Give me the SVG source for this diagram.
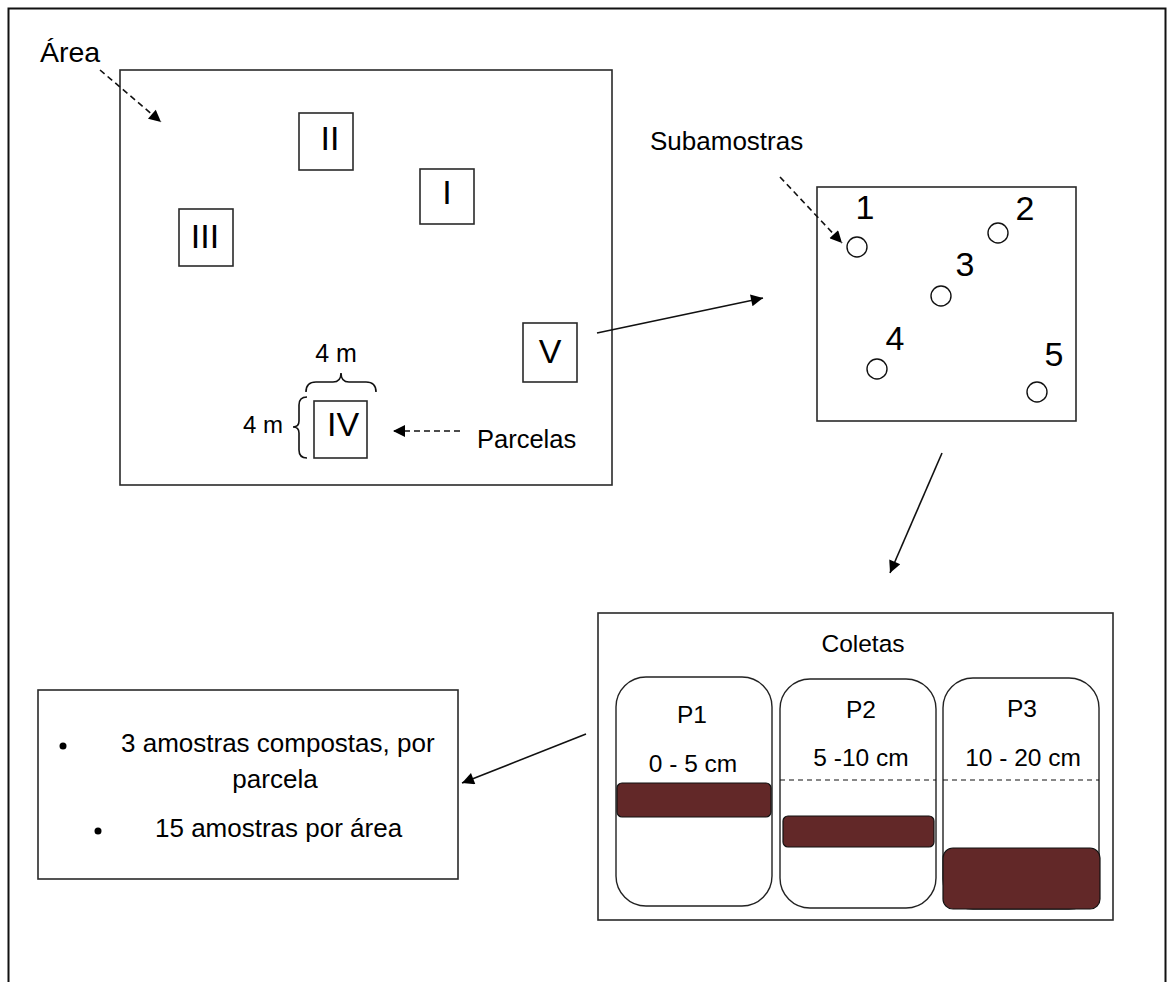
<svg xmlns="http://www.w3.org/2000/svg" width="1167" height="982" viewBox="0 0 1167 982">
<defs>
<marker id="ah" viewBox="0 0 10 10" refX="10" refY="5" markerWidth="15" markerHeight="12" markerUnits="userSpaceOnUse" orient="auto"><path d="M0,0 L10,5 L0,10 z" fill="#000"/></marker>
<style>
.box{fill:#fff;stroke:#2a2a2a;stroke-width:1.6}
.t{font-family:"Liberation Sans",Arial,sans-serif;fill:#000}
.num{font-family:"Liberation Sans",Arial,sans-serif;fill:#000;font-size:34px;text-anchor:middle}
.c{fill:#fff;stroke:#111;stroke-width:1.4}
.ln{stroke:#111;stroke-width:1.6;fill:none}
.dash{stroke:#111;stroke-width:1.6;fill:none;stroke-dasharray:6 4}
.bar{fill:#622828;stroke:#111;stroke-width:1.2}
.cap{fill:#fff;stroke:#222;stroke-width:1.4}
</style>
</defs>
<rect x="0" y="0" width="1167" height="982" fill="#fff"/>
<rect x="8.5" y="8.5" width="1157" height="1000" fill="none" stroke="#111" stroke-width="2"/>

<g id="area">
<rect class="box" x="120" y="70" width="492" height="415"/>
<text class="t" x="40" y="62" font-size="28.5">Área</text>
</g>
<g id="plotII"><rect class="box" x="299" y="113" width="54" height="57"/><text class="num" x="330" y="150">II</text></g>
<g id="plotI"><rect class="box" x="420" y="169" width="54" height="55"/><text class="num" x="447" y="204">I</text></g>
<g id="plotIII"><rect class="box" x="179" y="209" width="54" height="57"/><text class="num" x="205" y="248">III</text></g>
<g id="plotV"><rect class="box" x="523" y="323" width="54" height="59"/><text class="num" x="550" y="363">V</text></g>
<g id="plotIV"><rect class="box" x="314" y="401" width="53" height="57"/><text class="num" x="343" y="436">IV</text></g>
<g id="dims">
<text class="t" x="336" y="362" font-size="25" text-anchor="middle">4 m</text>
<path class="ln" d="M306,392 Q306,382 316,382 L333,382 Q341,382 341,373 Q341,382 349,382 L366,382 Q376,382 376,392" stroke-width="1.3"/>
<text class="t" x="263" y="433" font-size="24" text-anchor="middle">4 m</text>
<path class="ln" d="M307,397 Q299,397 299,405 L299,421 Q299,427 293,427 Q299,427 299,433 L299,450 Q299,458 307,458" stroke-width="1.3"/>
<text class="t" x="477" y="448" font-size="25.5">Parcelas</text>
</g>

<g id="subamostras">
<rect class="box" x="817" y="187" width="259" height="234"/>
<text class="t" x="650" y="150" font-size="26">Subamostras</text>
<circle class="c" cx="857" cy="247" r="10"/>
<circle class="c" cx="998" cy="233" r="10"/>
<circle class="c" cx="941" cy="296" r="10"/>
<circle class="c" cx="877" cy="369" r="10"/>
<circle class="c" cx="1037" cy="392" r="10"/>
<text class="num" x="865" y="219">1</text>
<text class="num" x="1025" y="220">2</text>
<text class="num" x="965" y="276">3</text>
<text class="num" x="895" y="350">4</text>
<text class="num" x="1054" y="366">5</text>
</g>

<g id="coletas">
<rect class="box" x="598" y="613" width="515" height="307"/>
<text class="t" x="863" y="652" font-size="24.5" text-anchor="middle">Coletas</text>
<rect class="cap" x="616" y="677" width="156" height="229" rx="30"/>
<rect class="cap" x="780" y="679" width="156" height="229" rx="30"/>
<rect class="cap" x="943" y="678" width="156" height="231" rx="30"/>
<text class="t" x="692" y="723" font-size="24.5" text-anchor="middle">P1</text>
<text class="t" x="693" y="772" font-size="24.5" text-anchor="middle">0 - 5 cm</text>
<text class="t" x="861" y="718" font-size="24.5" text-anchor="middle">P2</text>
<text class="t" x="861" y="766" font-size="24.5" text-anchor="middle">5 -10 cm</text>
<text class="t" x="1022" y="717" font-size="24.5" text-anchor="middle">P3</text>
<text class="t" x="1023" y="766" font-size="24.5" text-anchor="middle">10 - 20 cm</text>
<line x1="780" y1="780" x2="936" y2="780" stroke="#111" stroke-width="1.2" stroke-dasharray="5 4"/>
<line x1="943" y1="780" x2="1099" y2="780" stroke="#111" stroke-width="1.2" stroke-dasharray="5 4"/>
<rect class="bar" x="617" y="783" width="154" height="34" rx="5"/>
<rect class="bar" x="783" y="816" width="151" height="31" rx="5"/>
<rect class="bar" x="943" y="848" width="157" height="61" rx="10"/>
</g>

<g id="resumo">
<rect class="box" x="38" y="690" width="420" height="189"/>
<circle cx="63" cy="746" r="3.5" fill="#000"/>
<circle cx="98" cy="831" r="3.5" fill="#000"/>
<text class="t" x="121" y="752" font-size="26">3 amostras compostas, por</text>
<text class="t" x="275" y="788" font-size="26" text-anchor="middle">parcela</text>
<text class="t" x="155" y="837" font-size="26">15 amostras por área</text>
</g>

<g id="connectors">
<line class="dash" x1="100" y1="70" x2="161" y2="122" marker-end="url(#ah)"/>
<line class="dash" x1="460" y1="431" x2="393" y2="431" marker-end="url(#ah)"/>
<line class="dash" x1="780" y1="177" x2="842" y2="243" marker-end="url(#ah)"/>
<line class="ln" x1="597" y1="333" x2="763" y2="298" marker-end="url(#ah)"/>
<line class="ln" x1="942" y1="453" x2="890" y2="573" marker-end="url(#ah)"/>
<line class="ln" x1="586" y1="734" x2="462" y2="783" marker-end="url(#ah)"/>
</g>
</svg>
